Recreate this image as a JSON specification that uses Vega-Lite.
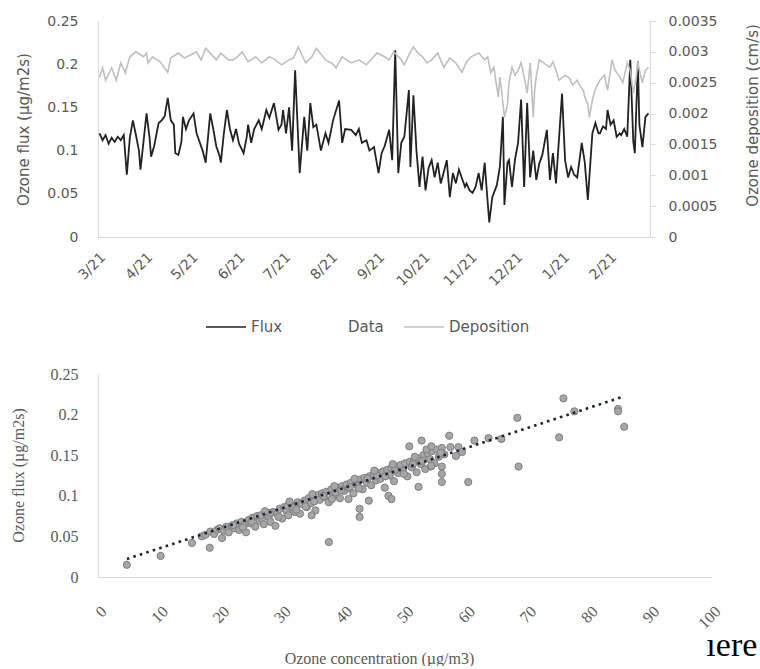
{
  "$schema": "https://vega.github.io/schema/vega-lite/v6.json",
  "background": "#ffffff",
  "padding": {"left": 10, "top": 14, "right": 0, "bottom": 0},
  "spacing": 137,
  "bounds": "flush",
  "resolve": {"legend": {"color": "independent"}, "scale": {"color": "independent"}},
  "config": {
    "view": {"stroke": null},
    "axis": {"grid": false, "domainColor": "#d9d9d9", "labelColor": "#595959", "titleColor": "#595959", "titleFontWeight": "normal"}
  },
  "datasets": {
    "flux": [
      {"day":1,"flux":0.120},{"day":3,"flux":0.112},{"day":5,"flux":0.118},{"day":7,"flux":0.108},{"day":9,"flux":0.115},{"day":11,"flux":0.110},{"day":13,"flux":0.116},{"day":15,"flux":0.112},{"day":17,"flux":0.118},{"day":19,"flux":0.072},{"day":21,"flux":0.115},{"day":23,"flux":0.135},{"day":25,"flux":0.118},{"day":27,"flux":0.100},{"day":28,"flux":0.078},{"day":30,"flux":0.110},{"day":32,"flux":0.143},{"day":34,"flux":0.115},{"day":35,"flux":0.093},{"day":37,"flux":0.105},{"day":40,"flux":0.132},{"day":42,"flux":0.135},{"day":44,"flux":0.140},{"day":46,"flux":0.161},{"day":48,"flux":0.135},{"day":50,"flux":0.130},{"day":51,"flux":0.097},{"day":53,"flux":0.095},{"day":55,"flux":0.110},{"day":56,"flux":0.139},{"day":58,"flux":0.125},{"day":60,"flux":0.135},{"day":63,"flux":0.143},{"day":65,"flux":0.120},{"day":67,"flux":0.110},{"day":69,"flux":0.100},{"day":71,"flux":0.086},{"day":74,"flux":0.143},{"day":76,"flux":0.125},{"day":78,"flux":0.105},{"day":80,"flux":0.095},{"day":81,"flux":0.086},{"day":83,"flux":0.120},{"day":85,"flux":0.147},{"day":87,"flux":0.125},{"day":89,"flux":0.112},{"day":91,"flux":0.125},{"day":93,"flux":0.108},{"day":96,"flux":0.097},{"day":98,"flux":0.115},{"day":99,"flux":0.130},{"day":101,"flux":0.109},{"day":103,"flux":0.125},{"day":106,"flux":0.135},{"day":108,"flux":0.125},{"day":111,"flux":0.147},{"day":113,"flux":0.138},{"day":116,"flux":0.155},{"day":118,"flux":0.135},{"day":119,"flux":0.124},{"day":121,"flux":0.130},{"day":122,"flux":0.147},{"day":124,"flux":0.120},{"day":126,"flux":0.150},{"day":128,"flux":0.100},{"day":130,"flux":0.193},{"day":133,"flux":0.074},{"day":136,"flux":0.139},{"day":138,"flux":0.100},{"day":140,"flux":0.155},{"day":142,"flux":0.127},{"day":144,"flux":0.130},{"day":147,"flux":0.100},{"day":150,"flux":0.120},{"day":152,"flux":0.109},{"day":155,"flux":0.135},{"day":159,"flux":0.158},{"day":161,"flux":0.109},{"day":163,"flux":0.125},{"day":167,"flux":0.124},{"day":170,"flux":0.118},{"day":172,"flux":0.125},{"day":174,"flux":0.109},{"day":177,"flux":0.112},{"day":179,"flux":0.100},{"day":182,"flux":0.104},{"day":185,"flux":0.074},{"day":187,"flux":0.097},{"day":189,"flux":0.105},{"day":192,"flux":0.124},{"day":194,"flux":0.089},{"day":196,"flux":0.216},{"day":198,"flux":0.074},{"day":200,"flux":0.109},{"day":202,"flux":0.116},{"day":205,"flux":0.170},{"day":206,"flux":0.081},{"day":208,"flux":0.164},{"day":210,"flux":0.100},{"day":212,"flux":0.058},{"day":214,"flux":0.093},{"day":216,"flux":0.054},{"day":218,"flux":0.080},{"day":220,"flux":0.089},{"day":222,"flux":0.069},{"day":224,"flux":0.086},{"day":226,"flux":0.062},{"day":228,"flux":0.075},{"day":230,"flux":0.089},{"day":232,"flux":0.046},{"day":234,"flux":0.074},{"day":236,"flux":0.062},{"day":238,"flux":0.078},{"day":240,"flux":0.068},{"day":242,"flux":0.058},{"day":243,"flux":0.062},{"day":245,"flux":0.054},{"day":247,"flux":0.051},{"day":249,"flux":0.058},{"day":251,"flux":0.074},{"day":253,"flux":0.054},{"day":255,"flux":0.086},{"day":256,"flux":0.062},{"day":258,"flux":0.017},{"day":260,"flux":0.046},{"day":263,"flux":0.060},{"day":265,"flux":0.081},{"day":267,"flux":0.139},{"day":268,"flux":0.037},{"day":270,"flux":0.086},{"day":271,"flux":0.089},{"day":273,"flux":0.058},{"day":275,"flux":0.090},{"day":277,"flux":0.109},{"day":279,"flux":0.159},{"day":281,"flux":0.058},{"day":283,"flux":0.155},{"day":285,"flux":0.069},{"day":287,"flux":0.100},{"day":289,"flux":0.066},{"day":291,"flux":0.085},{"day":293,"flux":0.095},{"day":296,"flux":0.124},{"day":298,"flux":0.066},{"day":300,"flux":0.097},{"day":302,"flux":0.062},{"day":306,"flux":0.166},{"day":308,"flux":0.089},{"day":310,"flux":0.069},{"day":312,"flux":0.081},{"day":314,"flux":0.072},{"day":316,"flux":0.069},{"day":319,"flux":0.109},{"day":321,"flux":0.086},{"day":323,"flux":0.043},{"day":326,"flux":0.120},{"day":328,"flux":0.132},{"day":330,"flux":0.120},{"day":331,"flux":0.120},{"day":333,"flux":0.128},{"day":335,"flux":0.125},{"day":336,"flux":0.147},{"day":338,"flux":0.130},{"day":340,"flux":0.135},{"day":342,"flux":0.116},{"day":344,"flux":0.120},{"day":345,"flux":0.118},{"day":347,"flux":0.125},{"day":349,"flux":0.116},{"day":351,"flux":0.205},{"day":353,"flux":0.110},{"day":354,"flux":0.097},{"day":356,"flux":0.203},{"day":357,"flux":0.130},{"day":359,"flux":0.104},{"day":361,"flux":0.139},{"day":363,"flux":0.143}
    ],
    "dep": [
      {"day":1,"dep":0.00259},{"day":3,"dep":0.00274},{"day":5,"dep":0.00254},{"day":9,"dep":0.00274},{"day":12,"dep":0.00254},{"day":15,"dep":0.00282},{"day":18,"dep":0.00266},{"day":21,"dep":0.00292},{"day":25,"dep":0.00300},{"day":30,"dep":0.00292},{"day":32,"dep":0.00298},{"day":33,"dep":0.00282},{"day":36,"dep":0.00292},{"day":41,"dep":0.00284},{"day":46,"dep":0.00267},{"day":48,"dep":0.00290},{"day":53,"dep":0.00298},{"day":57,"dep":0.00290},{"day":61,"dep":0.00295},{"day":65,"dep":0.00300},{"day":68,"dep":0.00287},{"day":71,"dep":0.00306},{"day":74,"dep":0.00298},{"day":78,"dep":0.00287},{"day":81,"dep":0.00298},{"day":86,"dep":0.00287},{"day":89,"dep":0.00287},{"day":92,"dep":0.00292},{"day":95,"dep":0.00300},{"day":99,"dep":0.00284},{"day":104,"dep":0.00292},{"day":108,"dep":0.00282},{"day":113,"dep":0.00292},{"day":117,"dep":0.00287},{"day":121,"dep":0.00279},{"day":126,"dep":0.00287},{"day":129,"dep":0.00290},{"day":132,"dep":0.00308},{"day":137,"dep":0.00282},{"day":141,"dep":0.00292},{"day":144,"dep":0.00306},{"day":150,"dep":0.00287},{"day":154,"dep":0.00282},{"day":157,"dep":0.00274},{"day":161,"dep":0.00292},{"day":164,"dep":0.00287},{"day":167,"dep":0.00282},{"day":172,"dep":0.00287},{"day":177,"dep":0.00279},{"day":181,"dep":0.00290},{"day":184,"dep":0.00298},{"day":189,"dep":0.00292},{"day":192,"dep":0.00287},{"day":195,"dep":0.00300},{"day":199,"dep":0.00290},{"day":202,"dep":0.00279},{"day":205,"dep":0.00295},{"day":208,"dep":0.00308},{"day":211,"dep":0.00298},{"day":214,"dep":0.00292},{"day":217,"dep":0.00282},{"day":220,"dep":0.00287},{"day":224,"dep":0.00298},{"day":228,"dep":0.00275},{"day":232,"dep":0.00290},{"day":236,"dep":0.00282},{"day":240,"dep":0.00267},{"day":243,"dep":0.00284},{"day":246,"dep":0.00292},{"day":251,"dep":0.00298},{"day":255,"dep":0.00287},{"day":257,"dep":0.00292},{"day":259,"dep":0.00266},{"day":261,"dep":0.00275},{"day":264,"dep":0.00227},{"day":265,"dep":0.00259},{"day":266,"dep":0.00240},{"day":268,"dep":0.00194},{"day":270,"dep":0.00215},{"day":271,"dep":0.00250},{"day":273,"dep":0.00275},{"day":275,"dep":0.00262},{"day":277,"dep":0.00270},{"day":279,"dep":0.00282},{"day":281,"dep":0.00260},{"day":283,"dep":0.00233},{"day":285,"dep":0.00282},{"day":287,"dep":0.00194},{"day":288,"dep":0.00240},{"day":289,"dep":0.00260},{"day":291,"dep":0.00287},{"day":295,"dep":0.00280},{"day":298,"dep":0.00275},{"day":300,"dep":0.00284},{"day":302,"dep":0.00270},{"day":304,"dep":0.00254},{"day":308,"dep":0.00262},{"day":311,"dep":0.00257},{"day":313,"dep":0.00246},{"day":316,"dep":0.00254},{"day":318,"dep":0.00244},{"day":320,"dep":0.00238},{"day":321,"dep":0.00227},{"day":323,"dep":0.00215},{"day":324,"dep":0.00194},{"day":326,"dep":0.00222},{"day":328,"dep":0.00240},{"day":331,"dep":0.00254},{"day":334,"dep":0.00262},{"day":336,"dep":0.00238},{"day":339,"dep":0.00287},{"day":341,"dep":0.00270},{"day":344,"dep":0.00260},{"day":346,"dep":0.00250},{"day":349,"dep":0.00282},{"day":351,"dep":0.00270},{"day":353,"dep":0.00233},{"day":355,"dep":0.00260},{"day":356,"dep":0.00284},{"day":357,"dep":0.00270},{"day":359,"dep":0.00250},{"day":361,"dep":0.00270},{"day":363,"dep":0.00275}
    ],
    "scatter": [
      {"conc":4.7,"flux":0.015},{"conc":10.2,"flux":0.026},{"conc":15.3,"flux":0.042},{"conc":16.9,"flux":0.050},{"conc":18.2,"flux":0.036},{"conc":20.2,"flux":0.048},
      {"conc":17.5,"flux":0.052},{"conc":18.3,"flux":0.056},{"conc":18.9,"flux":0.053},{"conc":19.4,"flux":0.058},{"conc":19.8,"flux":0.060},{"conc":20.5,"flux":0.057},{"conc":20.9,"flux":0.062},{"conc":21.3,"flux":0.055},{"conc":21.8,"flux":0.063},{"conc":22.2,"flux":0.060},{"conc":22.6,"flux":0.066},{"conc":23.0,"flux":0.058},{"conc":23.4,"flux":0.068},{"conc":23.8,"flux":0.064},{"conc":24.1,"flux":0.055},{"conc":24.5,"flux":0.070},{"conc":24.8,"flux":0.066},{"conc":25.2,"flux":0.073},{"conc":25.6,"flux":0.062},{"conc":25.9,"flux":0.075},{"conc":26.3,"flux":0.069},{"conc":26.7,"flux":0.072},{"conc":27.0,"flux":0.065},{"conc":27.4,"flux":0.077},{"conc":27.8,"flux":0.074},{"conc":28.1,"flux":0.068},{"conc":28.5,"flux":0.080},{"conc":28.9,"flux":0.063},{"conc":29.2,"flux":0.078},{"conc":29.6,"flux":0.084},{"conc":30.0,"flux":0.072},{"conc":30.3,"flux":0.086},{"conc":30.7,"flux":0.081},{"conc":31.0,"flux":0.076},{"conc":31.4,"flux":0.089},{"conc":31.8,"flux":0.085},{"conc":32.1,"flux":0.080},{"conc":32.5,"flux":0.092},{"conc":32.9,"flux":0.078},{"conc":33.2,"flux":0.090},{"conc":33.6,"flux":0.094},{"conc":34.0,"flux":0.086},{"conc":34.3,"flux":0.097},{"conc":34.7,"flux":0.091},{"conc":35.1,"flux":0.099},{"conc":35.4,"flux":0.082},{"conc":35.8,"flux":0.101},{"conc":36.1,"flux":0.095},{"conc":36.5,"flux":0.103},{"conc":36.9,"flux":0.098},{"conc":37.2,"flux":0.105},{"conc":37.6,"flux":0.092},{"conc":38.0,"flux":0.108},{"conc":38.3,"flux":0.101},{"conc":38.7,"flux":0.104},{"conc":39.0,"flux":0.110},{"conc":39.4,"flux":0.097},{"conc":39.8,"flux":0.112},{"conc":40.1,"flux":0.106},{"conc":40.5,"flux":0.114},{"conc":40.9,"flux":0.109},{"conc":41.2,"flux":0.116},{"conc":41.6,"flux":0.103},{"conc":42.0,"flux":0.118},{"conc":42.3,"flux":0.112},{"conc":42.7,"flux":0.120},{"conc":43.1,"flux":0.108},{"conc":43.4,"flux":0.122},{"conc":43.8,"flux":0.116},{"conc":44.2,"flux":0.124},{"conc":44.5,"flux":0.113},{"conc":44.9,"flux":0.126},{"conc":45.3,"flux":0.119},{"conc":45.6,"flux":0.128},{"conc":46.0,"flux":0.121},{"conc":46.4,"flux":0.130},{"conc":46.7,"flux":0.110},{"conc":47.1,"flux":0.132},{"conc":47.5,"flux":0.125},{"conc":47.8,"flux":0.134},{"conc":48.2,"flux":0.118},{"conc":48.6,"flux":0.136},{"conc":48.9,"flux":0.128},{"conc":49.3,"flux":0.138},{"conc":49.7,"flux":0.131},{"conc":50.0,"flux":0.140},{"conc":50.4,"flux":0.124},{"conc":50.8,"flux":0.142},{"conc":51.1,"flux":0.135},{"conc":51.5,"flux":0.144},{"conc":51.9,"flux":0.129},{"conc":52.2,"flux":0.146},{"conc":52.6,"flux":0.139},{"conc":53.0,"flux":0.150},{"conc":53.3,"flux":0.133},{"conc":53.7,"flux":0.152},{"conc":54.1,"flux":0.145},{"conc":54.4,"flux":0.155},{"conc":54.8,"flux":0.140},{"conc":55.2,"flux":0.157},{"conc":55.5,"flux":0.148},{"conc":56.0,"flux":0.159},{"conc":56.4,"flux":0.151},
      {"conc":22.0,"flux":0.064},{"conc":23.6,"flux":0.061},{"conc":25.0,"flux":0.068},{"conc":26.5,"flux":0.076},{"conc":28.0,"flux":0.079},{"conc":29.4,"flux":0.074},{"conc":30.9,"flux":0.088},{"conc":32.3,"flux":0.083},{"conc":33.8,"flux":0.087},{"conc":35.2,"flux":0.093},{"conc":36.7,"flux":0.100},{"conc":38.1,"flux":0.096},{"conc":39.6,"flux":0.107},{"conc":41.0,"flux":0.111},{"conc":42.5,"flux":0.109},{"conc":43.9,"flux":0.121},{"conc":45.4,"flux":0.125},{"conc":46.8,"flux":0.124},{"conc":48.3,"flux":0.131},{"conc":49.8,"flux":0.127},{"conc":51.3,"flux":0.139},{"conc":52.8,"flux":0.143},{"conc":54.2,"flux":0.136},{"conc":55.8,"flux":0.153},
      {"conc":27.2,"flux":0.081},{"conc":31.2,"flux":0.093},{"conc":34.9,"flux":0.102},{"conc":38.5,"flux":0.112},{"conc":41.8,"flux":0.121},{"conc":45.0,"flux":0.131},{"conc":48.0,"flux":0.139},{"conc":51.6,"flux":0.148},{"conc":53.5,"flux":0.157},
      {"conc":34.8,"flux":0.076},{"conc":37.6,"flux":0.043},{"conc":40.8,"flux":0.096},{"conc":42.6,"flux":0.084},{"conc":42.6,"flux":0.074},{"conc":44.1,"flux":0.094},{"conc":47.3,"flux":0.100},{"conc":47.8,"flux":0.096},{"conc":52.2,"flux":0.111},{"conc":50.7,"flux":0.161},{"conc":52.7,"flux":0.168},{"conc":54.3,"flux":0.161},{"conc":54.3,"flux":0.137},{"conc":56.0,"flux":0.136},{"conc":56.0,"flux":0.127},{"conc":56.0,"flux":0.117},{"conc":57.2,"flux":0.174},{"conc":57.4,"flux":0.160},{"conc":58.3,"flux":0.149},{"conc":58.7,"flux":0.160},{"conc":59.3,"flux":0.154},{"conc":60.3,"flux":0.117},{"conc":61.3,"flux":0.168},{"conc":63.6,"flux":0.171},{"conc":65.7,"flux":0.170},{"conc":68.3,"flux":0.196},{"conc":68.5,"flux":0.136},{"conc":75.1,"flux":0.172},{"conc":75.8,"flux":0.220},{"conc":77.6,"flux":0.204},{"conc":84.7,"flux":0.207},{"conc":84.7,"flux":0.204},{"conc":85.7,"flux":0.185}
    ],
    "trend": [{"conc":4.7,"flux":0.0222},{"conc":85.5,"flux":0.222}]
  },
  "vconcat": [
    {
      "width": 552,
      "height": 216,
      "layer": [
        {
          "data": {"name": "flux"},
          "mark": {"type": "line", "strokeWidth": 1.8, "interpolate": "linear"},
          "encoding": {
            "x": {"field": "day", "type": "quantitative", "scale": {"domain": [0, 364], "nice": false, "zero": false},
              "axis": {"title": null, "values": [0,31,61,92,122,153,184,214,245,275,306,337],
                "labelExpr": "timeFormat(datetime(2021, 2, 1 + datum.value), '%-m') + '/21'",
                "labelAngle": -45, "ticks": false, "labelPadding": 13, "labelFont": "DejaVu Sans", "labelFontSize": 14}},
            "y": {"field": "flux", "type": "quantitative", "scale": {"domain": [0, 0.25], "nice": false},
              "axis": {"orient": "left", "values": [0,0.05,0.1,0.15,0.2,0.25], "format": "~g", "ticks": false, "labelPadding": 20,
                "labelFont": "DejaVu Sans", "labelFontSize": 14, "title": "Ozone flux (µg/m2s)", "titleFont": "DejaVu Sans", "titleFontSize": 15,
                "titleX": -75, "titleY": 108, "titleAngle": 270, "titleAlign": "center", "titleBaseline": "middle"}},
            "color": {"datum": "Flux", "type": "nominal",
              "scale": {"domain": ["Flux", "Data", "Deposition"], "range": ["#222222", "#ffffff", "#bfbfbf"]},
              "legend": {"title": null, "orient": "none", "legendX": 107, "legendY": 285, "direction": "horizontal", "symbolType": "stroke", "symbolSize": 1600,
                "symbolStrokeWidth": 1.6, "labelFont": "DejaVu Sans", "labelFontSize": 15, "labelColor": "#595959",
                "columnPadding": 16, "labelOffset": 4}}
          }
        },
        {
          "data": {"name": "dep"},
          "mark": {"type": "line", "strokeWidth": 1.6},
          "encoding": {
            "x": {"field": "day", "type": "quantitative"},
            "y": {"field": "dep", "type": "quantitative", "scale": {"domain": [0, 0.0035], "nice": false},
              "axis": {"orient": "right", "values": [0,0.0005,0.001,0.0015,0.002,0.0025,0.003,0.0035], "format": "~g",
                "ticks": true, "tickSize": 5, "tickColor": "#d9d9d9", "labelPadding": 13,
                "labelFont": "DejaVu Sans", "labelFontSize": 14, "title": "Ozone deposition (cm/s)", "titleFont": "DejaVu Sans", "titleFontSize": 15,
                "titleX": 102, "titleY": 94, "titleAngle": 270, "titleAlign": "center", "titleBaseline": "middle"}},
            "color": {"datum": "Deposition", "type": "nominal"}
          }
        }
      ],
      "resolve": {"scale": {"y": "independent"}}
    },
    {
      "width": 614,
      "height": 203,
      "title": {"text": "ıere", "orient": "bottom", "anchor": "end", "font": "Liberation Serif", "fontSize": 34, "fontWeight": "normal", "color": "#000000", "dx": 34, "dy": -37, "offset": 0},
      "layer": [
        {
          "data": {"name": "scatter"},
          "mark": {"type": "circle", "size": 52, "color": "#a6a6a6", "opacity": 1, "stroke": "#7f7f7f", "strokeWidth": 1},
          "encoding": {
            "x": {"field": "conc", "type": "quantitative", "scale": {"domain": [0, 100], "nice": false},
              "axis": {"values": [0,10,20,30,40,50,60,70,80,90,100], "labelAngle": -45, "ticks": false, "labelPadding": 26,
                "labelFont": "Liberation Serif", "labelFontSize": 16, "title": "Ozone concentration (µg/m3)", "titleFont": "Liberation Serif", "titleFontSize": 16,
                "titleX": 281, "titleY": 81, "titleBaseline": "middle"}},
            "y": {"field": "flux", "type": "quantitative", "scale": {"domain": [0, 0.25], "nice": false},
              "axis": {"values": [0,0.05,0.1,0.15,0.2,0.25], "format": "~g", "ticks": false, "labelPadding": 20,
                "labelFont": "Liberation Serif", "labelFontSize": 16, "title": "Ozone flux (µg/m2s)", "titleFont": "Liberation Serif", "titleFontSize": 16,
                "titleX": -80, "titleY": 101, "titleAngle": 270, "titleAlign": "center", "titleBaseline": "middle"}}
          }
        },
        {
          "data": {"name": "trend"},
          "mark": {"type": "line", "color": "#1c2533", "strokeWidth": 2.6, "strokeDash": [2.6, 4.2], "strokeCap": "butt"},
          "encoding": {
            "x": {"field": "conc", "type": "quantitative"},
            "y": {"field": "flux", "type": "quantitative"}
          }
        }
      ]
    }
  ]
}
